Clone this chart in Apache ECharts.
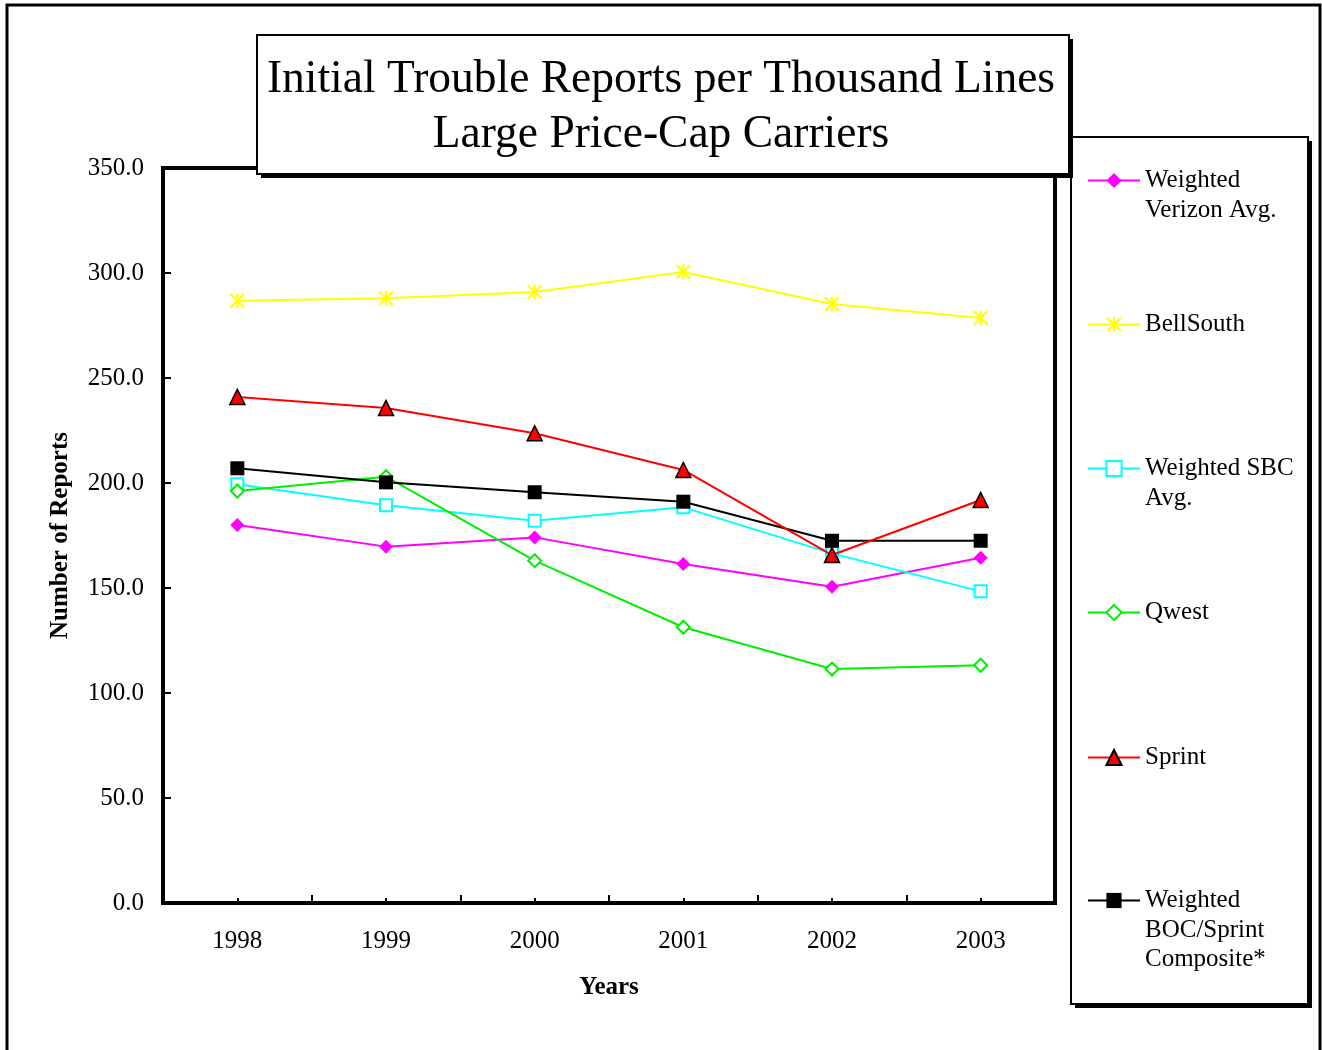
<!DOCTYPE html>
<html>
<head>
<meta charset="utf-8">
<script src="https://cdn.jsdelivr.net/npm/echarts@6/dist/echarts.min.js"></script>
<style>
html,body{margin:0;padding:0;background:#fff;}
#chart{width:1322px;height:1050px;}
</style>
</head>
<body>
<div id="chart"></div>
<script>
const years = ['1998', '1999', '2000', '2001', '2002', '2003'];
const verizon = [180.0, 169.7, 174.1, 161.4, 150.6, 164.4];
const bellsouth = [286.8, 288.0, 291.0, 300.5, 285.2, 278.6];
const sbc = [199.4, 189.4, 182.0, 188.4, 166.5, 148.4];
const qwest = [196.2, 203.0, 163.0, 131.3, 111.4, 113.2];
const sprint = [241.0, 235.7, 223.7, 206.2, 165.7, 191.9];
const composite = [207.0, 200.3, 195.6, 191.1, 172.5, 172.5];
const yTicks = [0, 50, 100, 150, 200, 250, 300, 350];

const names = ['Weighted\nVerizon Avg.', 'BellSouth', 'Weighted SBC\nAvg.', 'Qwest', 'Sprint', 'Weighted\nBOC/Sprint\nComposite*'];
const SERIF = '"Liberation Serif", "Times New Roman", serif';
const asterisk = 'path://M8.6 0L11.4 0L11.4 20L8.6 20Z M0 2L2 0L20 18L18 20Z M18 0L20 2L2 20L0 18Z';

const chart = echarts.init(document.getElementById('chart'), null, {renderer: 'canvas'});

const legendCenters = [180.5, 324.5, 468.5, 612.5, 757.5, 900.5];
const LH = 29.5;
function padName(n) {
  const lines = n.split('\n').length;
  return '\n'.repeat(lines - 1) + n;
}
const legends = names.map((n, i) => {
  const lines = n.split('\n').length;
  const total = 2 * lines - 1;
  return {
    data: [n],
    orient: 'vertical',
    left: 1087,
    top: legendCenters[i] - total * LH / 2,
    padding: 0,
    itemWidth: 52,
    itemHeight: 19,
    selectedMode: false,
    formatter: function (name) { return padName(name); },
    textStyle: {fontFamily: SERIF, fontSize: 25, lineHeight: LH, color: '#000'}
  };
});

function mkSeries(name, data, color, symbol, size, fill, border, borderW, z) {
  return {
    name: name,
    type: 'line',
    data: data,
    xAxisIndex: 0,
    symbol: symbol,
    symbolSize: size,
    showAllSymbol: true,
    lineStyle: {color: color, width: 2},
    itemStyle: {color: fill, borderColor: border, borderWidth: borderW, opacity: 1},
    emphasis: {disabled: true},
    z: z
  };
}

const option = {
  animation: false,
  backgroundColor: '#fff',
  title: {
    text: 'Initial Trouble Reports per Thousand Lines\nLarge Price-Cap Carriers',
    left: 661,
    top: 53,
    textAlign: 'center',
    padding: 0,
    textStyle: {fontFamily: SERIF, fontSize: 45.5, fontWeight: 'normal', lineHeight: 55, color: '#000'}
  },
  legend: legends,
  grid: {
    left: 163, right: 267, top: 168, bottom: 147,
    show: true, borderColor: '#000', borderWidth: 4, backgroundColor: 'transparent'
  },
  xAxis: [{
    type: 'category',
    data: years,
    boundaryGap: true,
    axisLine: {show: false},
    axisTick: {show: true, inside: true, length: 8, lineStyle: {color: '#000', width: 2}},
    axisLabel: {fontFamily: SERIF, fontSize: 25, color: '#000', margin: 26},
    name: 'Years',
    nameLocation: 'middle',
    nameGap: 72,
    nameTextStyle: {fontFamily: SERIF, fontSize: 25, fontWeight: 'bold', color: '#000'}
  }, {
    type: 'category',
    data: years,
    boundaryGap: true,
    position: 'bottom',
    axisLine: {show: false},
    axisTick: {show: true, inside: true, alignWithLabel: true, length: 5, lineStyle: {color: '#000', width: 2}},
    axisLabel: {show: false}
  }],
  yAxis: {
    type: 'value',
    min: yTicks[0],
    max: yTicks[yTicks.length - 1],
    interval: 50,
    splitLine: {show: false},
    axisLine: {show: false},
    axisTick: {show: true, inside: true, length: 8, lineStyle: {color: '#000', width: 2}},
    axisLabel: {fontFamily: SERIF, fontSize: 25, color: '#000', margin: 19,
      formatter: v => v.toFixed(1)},
    name: 'Number of Reports',
    nameLocation: 'middle',
    nameGap: 90,
    nameTextStyle: {fontFamily: SERIF, fontSize: 25, fontWeight: 'bold', color: '#000'}
  },
  graphic: [
    {type: 'rect', z: 1, silent: true, shape: {x: 7, y: 5, width: 1313, height: 1100},
      style: {fill: 'none', stroke: '#000', lineWidth: 3}},
    {type: 'rect', z: 5, silent: true, shape: {x: 261, y: 39, width: 812, height: 139},
      style: {fill: '#000'}},
    {type: 'rect', z: 5, silent: true, shape: {x: 257, y: 35, width: 812, height: 139},
      style: {fill: '#fff', stroke: '#000', lineWidth: 2}},
    {type: 'rect', z: 3, silent: true, shape: {x: 1075, y: 141, width: 237, height: 867},
      style: {fill: '#000'}},
    {type: 'rect', z: 3, silent: true, shape: {x: 1071, y: 137, width: 237, height: 867},
      style: {fill: '#fff', stroke: '#000', lineWidth: 2}}
  ],
  series: [
    mkSeries(names[0], verizon, '#FF00FF', 'diamond', 14, '#FF00FF', '#FF00FF', 0, 2),
    mkSeries(names[1], bellsouth, '#FFFF00', asterisk, 15, '#FFFF00', '#FFFF00', 0, 2),
    mkSeries(names[2], sbc, '#00FFFF', 'rect', 12, '#fff', '#00FFFF', 2, 2),
    mkSeries(names[3], qwest, '#00EE00', 'diamond', 13, '#fff', '#00EE00', 2, 2),
    mkSeries(names[4], sprint, '#FF0000', 'triangle', 15, '#FF0000', '#000', 1.5, 4),
    mkSeries(names[5], composite, '#000000', 'rect', 14, '#000', '#000', 0, 3)
  ]
};
chart.setOption(option);
</script>
</body>
</html>
